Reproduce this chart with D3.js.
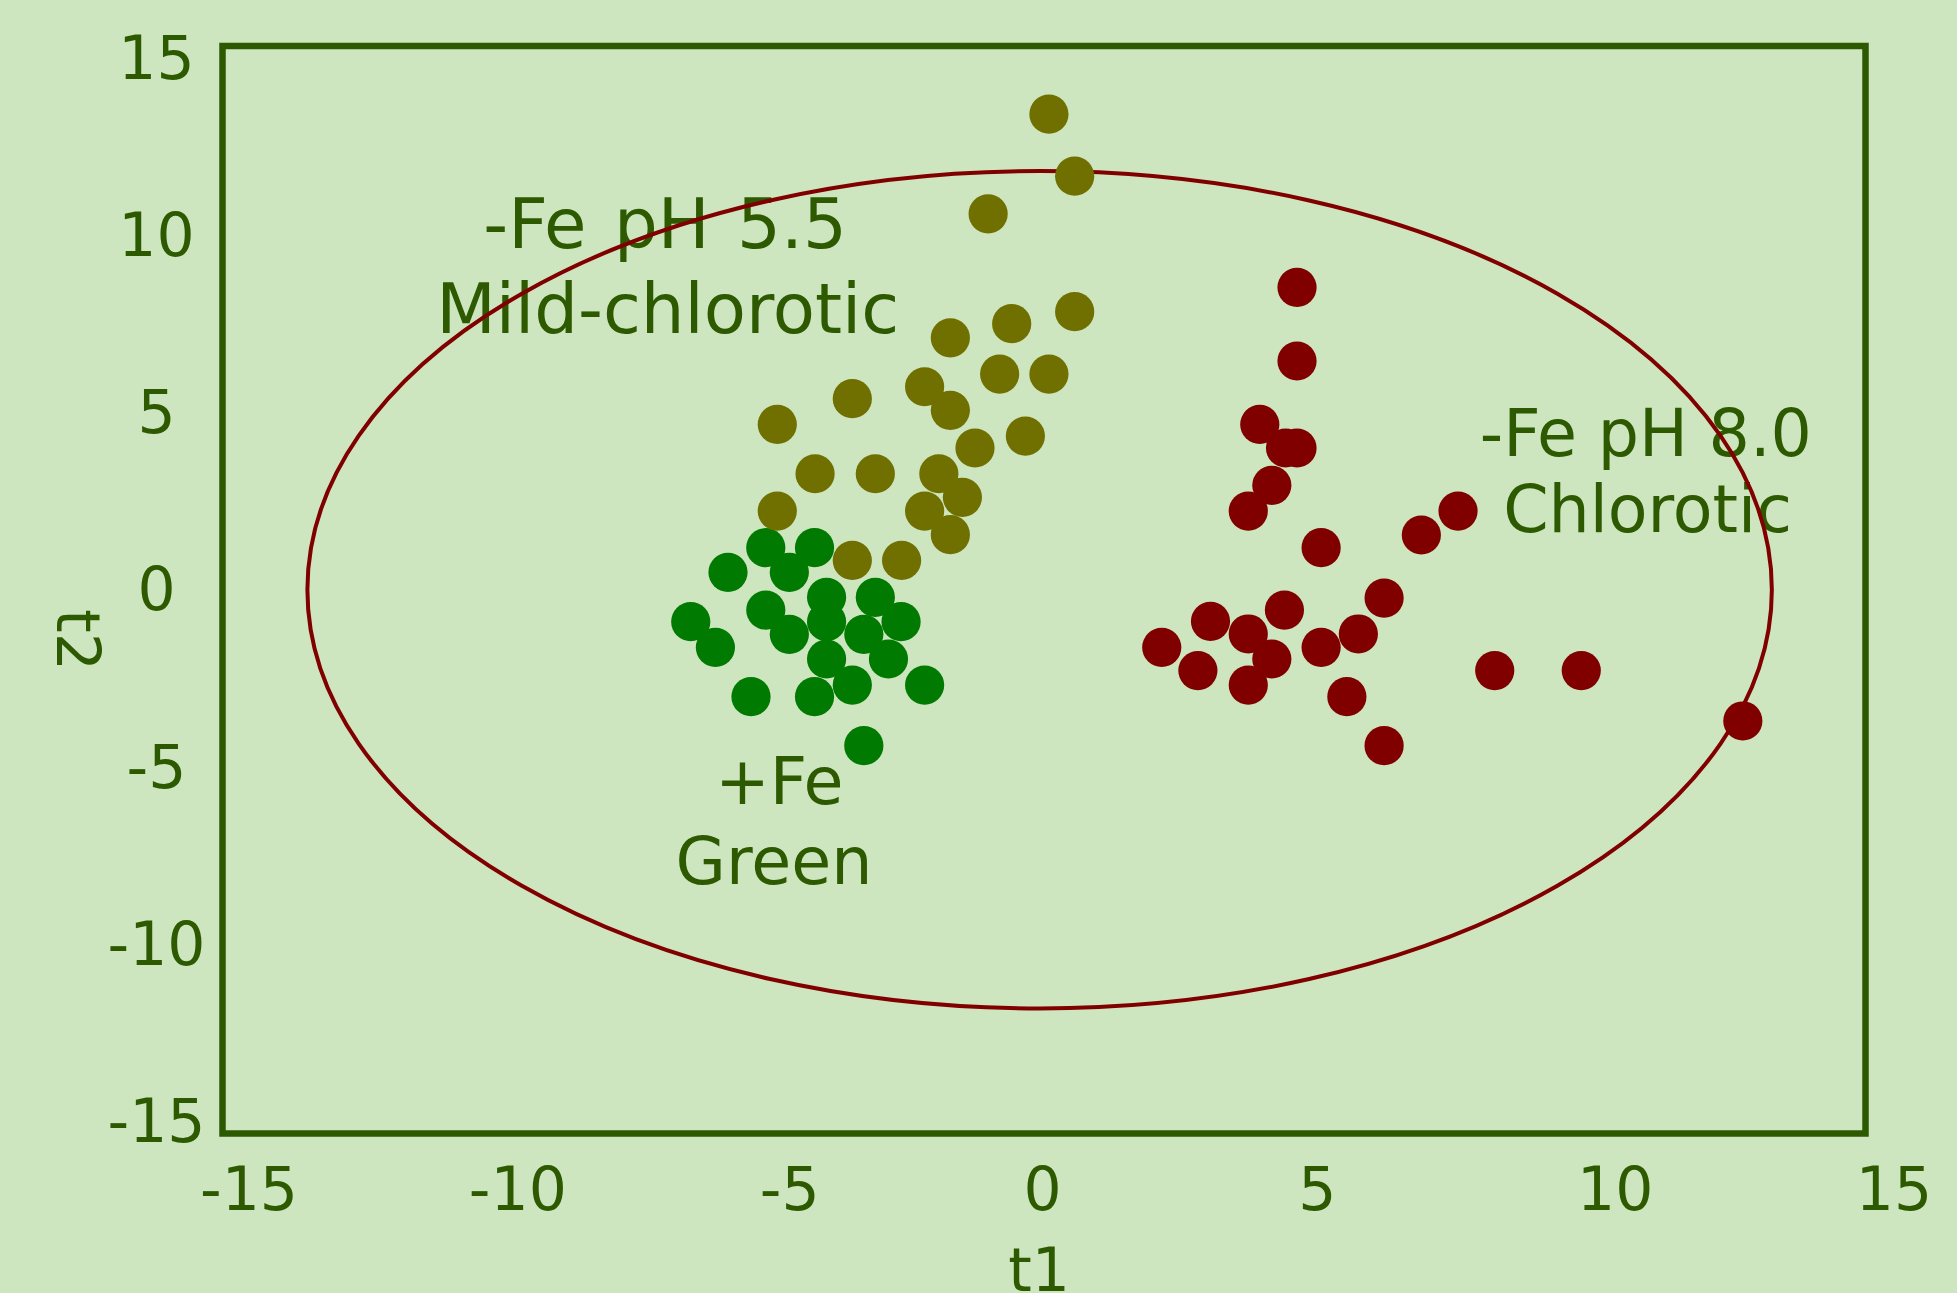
<!DOCTYPE html>
<html>
<head>
<meta charset="utf-8">
<script src="https://cdn.jsdelivr.net/npm/d3@7"></script>
<style>
  html, body { margin: 0; padding: 0; background: #cee6c0; }
  svg { display: block; }
  text { font-family: "DejaVu Sans", Verdana, sans-serif; fill: #2d5a00; }
</style>
</head>
<body>
<svg id="chart" width="1957" height="1293"></svg>
<script>
// Score plot: t1 vs t2 with Hotelling T2 ellipse, three iron treatments.

const xTickValues = [-15, -10, -5, 0, 5, 10, 15];
const xTickLabels = ["-15", "-10", "-5", "0", "5", "10", "15"];
const yTickValues = [-15, -10, -5, 0, 5, 10, 15];
const yTickLabels = ["-15", "-10", "-5", "0", "5", "10", "15"];

// +Fe (green)
const greenT1 = [-5.08, -4.19, -5.77, -4.65, -3.97, -3.08, -5.08, -6.45, -3.97, -2.61,
                 -4.65, -3.29, -6.00, -3.97, -2.84, -3.50, -2.18, -5.35, -4.19, -3.29];
const greenT2 = [ 1.16,  1.16,  0.48,  0.48, -0.21, -0.21, -0.56, -0.88, -0.88, -0.88,
                 -1.23, -1.23, -1.59, -1.91, -1.91, -2.63, -2.63, -2.95, -2.95, -4.30];

// -Fe pH 5.5 (olive)
const oliveT1 = [ 0.09,  0.56, -1.02,  0.56, -0.59, -1.71, -0.81,  0.09, -3.50, -2.18,
                 -1.71, -4.87, -0.34, -1.26, -4.18, -3.08, -1.92, -1.49, -4.87, -2.18,
                 -1.71, -3.50, -2.60];
const oliveT2 = [13.12, 11.41, 10.37,  7.67,  7.34,  6.95,  5.95,  5.95,  5.27,  5.60,
                  4.95,  4.56,  4.24,  3.91,  3.20,  3.20,  3.20,  2.55,  2.17,  2.17,
                  1.52,  0.81,  0.81];

// -Fe pH 8.0 (dark red)
const redT1 = [ 4.62,  4.62,  3.94,  4.41,  4.62,  4.16,  3.73,  5.06,  6.89,  7.56,
                6.21,  4.39,  3.04,  3.73,  5.74,  2.15,  5.06,  4.16,  2.81,  3.73,
                8.23,  9.81,  5.53,  6.21, 12.76];
const redT2 = [ 8.34,  6.31,  4.56,  3.91,  3.91,  2.88,  2.17,  1.16,  1.51,  2.17,
               -0.23, -0.56, -0.87, -1.22, -1.22, -1.59, -1.59, -1.91, -2.23, -2.63,
               -2.23, -2.23, -2.95, -4.30, -3.62];

// Hotelling T2 ellipse: centre (t1, t2) and semi-axes (t1, t2)
const ellipseCentre = [-0.08, 0];
const ellipseRadii = [13.37, 11.55];

const groupNames = ["+Fe", "-Fe pH 5.5", "-Fe pH 8.0"];
const annotationLines = [
  ["-Fe pH 5.5", "Mild-chlorotic"],
  ["-Fe pH 8.0", "Chlorotic"],
  ["+Fe", "Green"]
];
const axisTitles = ["t1", "t2"];

// ---- layout ----
const W = 1957, H = 1293;
const frame = { left: 222.5, right: 1865.5, top: 46, bottom: 1133.5 };
const ink = "#2d5a00";
const groupColors = { "+Fe": "#007a00", "-Fe pH 5.5": "#707000", "-Fe pH 8.0": "#800000" };
const dotRadius = 19.6;
const tickFont = 60;

// annotation anchors (centre x, baseline y) in score units, with font size and word spacing
const annotationStyle = [
  { size: 69, wordSpacing: 5.5, anchors: [[-6.92, 9.43], [-6.87, 7.08]] },
  { size: 65, wordSpacing: 0,   anchors: [[10.99, 3.68], [11.02, 1.59]] },
  { size: 65, wordSpacing: 0,   anchors: [[-4.83, -5.92], [-4.93, -8.13]] }
];
// per-label horizontal nudges for the t1 tick labels (px)
const xLabelNudge = { "-15": 26, "-10": 21, "-5": 19, "0": -2, "5": -1, "10": 23, "15": 28 };

const svg = d3.select("#chart");
svg.append("rect").attr("width", W).attr("height", H).attr("fill", "#cee6c0");

const x = d3.scaleLinear().domain([-15, 15]).range([frame.left, frame.right]);
const y = d3.scaleLinear().domain([-15, 15]).range([frame.bottom, frame.top]);
// tick labels on the t2 side sit on a slightly tighter spacing than the frame
const yLabel = d3.scaleLinear().domain([-15, 15]).range([1120, 56.7]);

// frame
svg.append("rect")
  .attr("x", x(-15)).attr("y", y(15))
  .attr("width", x(15) - x(-15)).attr("height", y(-15) - y(15))
  .attr("fill", "none").attr("stroke", ink).attr("stroke-width", 6.5);

// t1 axis labels
const xAxis = svg.append("g")
  .attr("transform", `translate(0, 1210)`)
  .call(d3.axisBottom(x).tickValues(xTickValues).tickSize(0).tickPadding(0)
    .tickFormat((d, i) => xTickLabels[i]));
xAxis.select(".domain").remove();
xAxis.selectAll("text")
  .attr("y", 0).attr("dy", 0)
  .attr("dx", (d, i) => xLabelNudge[xTickLabels[i]])
  .attr("text-anchor", "middle")
  .attr("font-size", tickFont)
  .attr("fill", ink)
  .style("font-family", "'DejaVu Sans', Verdana, sans-serif");

// t2 axis labels
const yAxis = svg.append("g")
  .attr("transform", `translate(156.5, 0)`)
  .call(d3.axisLeft(yLabel).tickValues(yTickValues).tickSize(0).tickPadding(0)
    .tickFormat((d, i) => yTickLabels[i]));
yAxis.select(".domain").remove();
yAxis.selectAll("text")
  .attr("x", 0).attr("dy", "0.36em")
  .attr("text-anchor", "middle")
  .attr("font-size", tickFont)
  .attr("fill", ink)
  .style("font-family", "'DejaVu Sans', Verdana, sans-serif");

// axis titles
svg.append("text")
  .attr("x", 1039).attr("y", 1291)
  .attr("text-anchor", "middle")
  .attr("font-size", tickFont)
  .text(axisTitles[0]);
svg.append("text")
  .attr("transform", "translate(57, 640) rotate(90)")
  .attr("text-anchor", "middle")
  .attr("font-size", tickFont)
  .text(axisTitles[1]);

// group annotations
annotationLines.forEach((lines, gi) => {
  const st = annotationStyle[gi];
  lines.forEach((line, li) => {
    const [ax, ay] = st.anchors[li];
    svg.append("text")
      .attr("x", x(ax)).attr("y", y(ay))
      .attr("text-anchor", "middle")
      .attr("font-size", st.size)
      .style("word-spacing", st.wordSpacing + "px")
      .text(line);
  });
});

// confidence ellipse
svg.append("ellipse")
  .attr("cx", x(ellipseCentre[0])).attr("cy", y(ellipseCentre[1]))
  .attr("rx", x(ellipseRadii[0]) - x(0))
  .attr("ry", y(0) - y(ellipseRadii[1]))
  .attr("fill", "none").attr("stroke", "#800000").attr("stroke-width", 4);

// score points
const groups = [
  { name: groupNames[0], t1: greenT1, t2: greenT2 },
  { name: groupNames[1], t1: oliveT1, t2: oliveT2 },
  { name: groupNames[2], t1: redT1, t2: redT2 }
];
groups.forEach(g => {
  svg.append("g").selectAll("circle")
    .data(g.t1.map((v, i) => [v, g.t2[i]]))
    .join("circle")
    .attr("cx", d => x(d[0]))
    .attr("cy", d => y(d[1]))
    .attr("r", dotRadius)
    .attr("fill", groupColors[g.name]);
});
</script>
</body>
</html>
